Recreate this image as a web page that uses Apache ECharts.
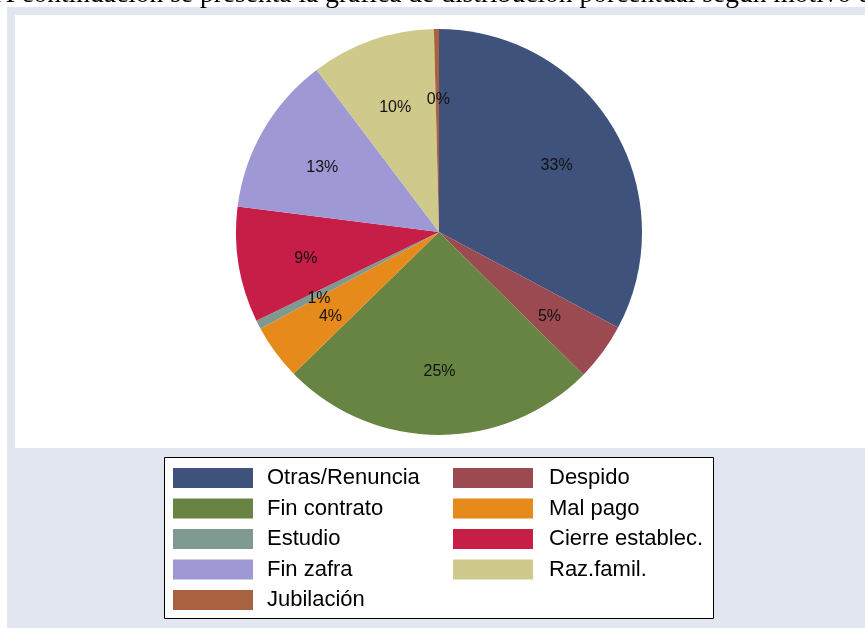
<!DOCTYPE html>
<html>
<head>
<meta charset="utf-8">
<script src="https://cdn.jsdelivr.net/npm/echarts@6/dist/echarts.min.js"></script>
<style>
  html, body { margin: 0; padding: 0; background: #fff; }
  #chart { width: 865px; height: 628px; }
</style>
</head>
<body>
<div id="chart"></div>
<script>
// motivos de salida, en el orden de la torta (sentido horario desde las 12)
const reasons = ['Otras/Renuncia', 'Despido', 'Fin contrato', 'Mal pago', 'Estudio',
  'Cierre establec.', 'Fin zafra', 'Raz.famil.', 'Jubilación'];
const shares = [32.8, 4.6, 25.3, 4.4, 0.7, 9.2, 12.7, 9.9, 0.4];
const colors = ['#3e527b', '#9a4a50', '#678443', '#e58a1b', '#7e998f',
  '#c71e47', '#9e98d4', '#cfc98c', '#a86240'];

// leyenda en dos columnas, por filas
const legendLeft = ['Otras/Renuncia', 'Fin contrato', 'Estudio', 'Fin zafra', 'Jubilación'];
const legendRight = ['Despido', 'Mal pago', 'Cierre establec.', 'Raz.famil.'];

const introText = 'A continuación se presenta la gráfica de distribución porcentual según motivo de salida';

const chart = echarts.init(document.getElementById('chart'));

const pieData = reasons.map((name, i) => ({
  name: name,
  value: shares[i],
  itemStyle: { color: colors[i] }
}));

function legendColumn(left, pad, names) {
  return {
    orient: 'vertical',
    left: left,
    top: 467,
    padding: 0,
    itemWidth: 80,
    itemHeight: 20,
    itemGap: 8.5,
    icon: 'rect',
    selectedMode: false,
    textStyle: {
      fontFamily: 'Liberation Sans, Arial, sans-serif',
      fontSize: 22,
      lineHeight: 20,
      color: '#000',
      padding: [0, 0, 0, pad]
    },
    data: names
  };
}

const option = {
  animation: false,
  color: colors,
  graphic: [
    {
      type: 'rect',
      shape: { x: 7, y: 7, width: 858, height: 621 },
      style: { fill: '#e1e6f0' },
      silent: true
    },
    {
      type: 'rect',
      shape: { x: 15, y: 15, width: 850, height: 433 },
      style: { fill: '#ffffff' },
      silent: true
    },
    {
      type: 'rect',
      shape: { x: 164.5, y: 457.5, width: 549, height: 161 },
      style: { fill: '#ffffff', stroke: '#000', lineWidth: 1 },
      silent: true
    },
    {
      type: 'text',
      x: -5.5,
      y: -19,
      style: {
        text: introText,
        font: '27.5px "Liberation Serif", "Times New Roman", serif',
        fill: '#000'
      },
      silent: true
    }
  ],
  legend: [
    legendColumn(173, 9, legendLeft),
    legendColumn(453, 11, legendRight)
  ],
  series: [
    {
      name: 'Motivo',
      type: 'pie',
      center: [439, 232],
      radius: 203,
      startAngle: 90,
      clockwise: true,
      silent: true,
      label: { show: false },
      labelLine: { show: false },
      itemStyle: { borderWidth: 0 },
      data: pieData
    },
    {
      // capa transparente solo para ubicar las etiquetas a 2/3 del radio
      name: 'Etiquetas',
      type: 'pie',
      center: [440, 236],
      radius: [63, 203],
      startAngle: 90,
      clockwise: true,
      silent: true,
      itemStyle: { color: 'rgba(0,0,0,0)', borderWidth: 0 },
      label: {
        show: true,
        position: 'inside',
        fontFamily: 'Liberation Sans, Arial, sans-serif',
        fontSize: 16,
        color: '#111',
        formatter: (p) => Math.round(p.percent) + '%'
      },
      labelLine: { show: false },
      data: reasons.map((name, i) => ({ name: name, value: shares[i] }))
    }
  ]
};

chart.setOption(option);
</script>
</body>
</html>
